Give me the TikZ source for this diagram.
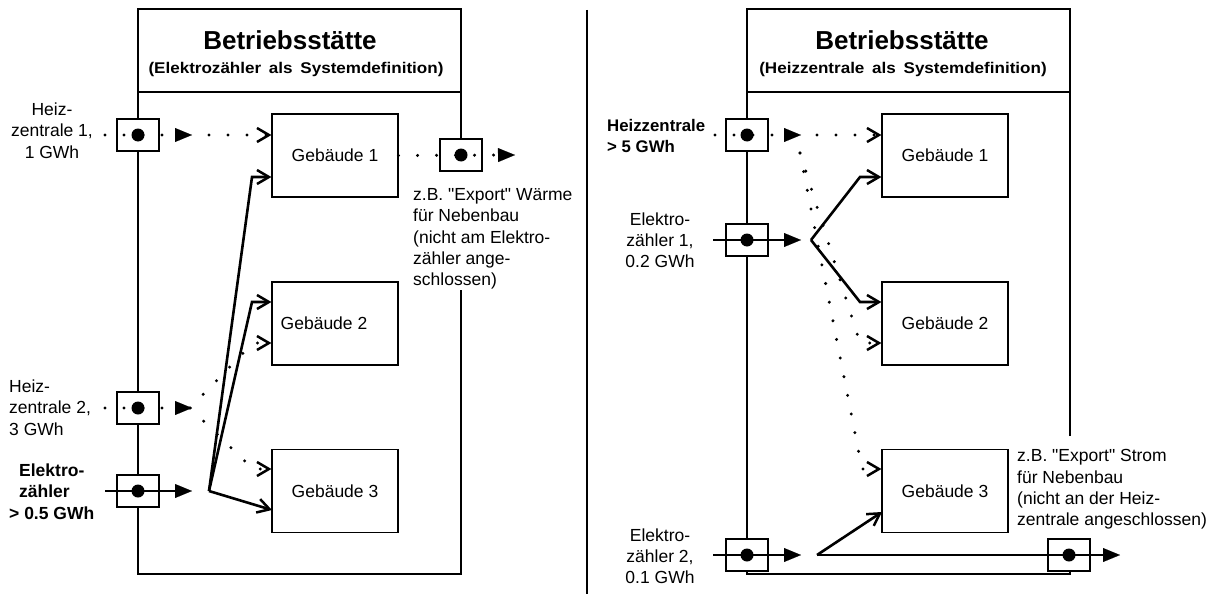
\documentclass[tikz,border=0pt]{standalone}
\usepackage{fontspec}
\setmainfont{Liberation Sans}[Ligatures=TeXOff]
\newfontfamily\subfont[FakeStretch=1.1]{Liberation Sans}
\usetikzlibrary{arrows.meta,calc}
\tikzset{
  bframe/.style={line width=2.6pt},
  divline/.style={line width=1.2pt},
  meter/.style={draw, line width=1.1pt, fill=white, minimum width=42pt, minimum height=32pt, inner sep=0pt},
  bldg/.style={draw, line width=1.1pt, minimum width=126pt, minimum height=83pt, inner sep=0pt, font=\fontsize{17.5}{21}\selectfont},
  lbl/.style={inner sep=0pt, font=\fontsize{17.5}{21.3}\selectfont},
  blbl/.style={inner sep=0pt, font=\fontsize{17.5}{21.3}\selectfont\bfseries},
  ttl/.style={anchor=base, inner sep=0pt, font=\fontsize{26}{30}\selectfont\bfseries},
  subttl/.style={anchor=base, inner sep=0pt, font=\subfont\bfseries\fontsize{15.5}{18}\selectfont},
  dotl/.style={line width=3.3pt, dash pattern=on 0pt off 19pt, line cap=round},
  flow/.style={line width=2.6pt},
  tri/.style={-{Triangle[length=17pt,width=14pt,line width=0.1pt]}},
  barb/.style={-{Straight Barb[length=12pt,width=14pt,line width=2.5pt]}},
}
\begin{document}
\begin{tikzpicture}[x=1pt,y=-1pt]
\useasboundingbox (0,0) rectangle (1223,594);

% ---------------- LEFT PANEL ----------------
\draw[bframe] (461,139) -- (461,9) -- (138,9) -- (138,574) -- (461,574) -- (461,290);
\draw[divline] (138,92) -- (461,92);
\node[ttl] (tL) at (290,50) {Betriebsstätte};
\node[subttl] (sL) at (296,74) {(Elektrozähler\hspace{3pt} als\hspace{3pt} Systemdefinition)};

\node[bldg] (g1) at (335,155.5) {Gebäude 1};
\node[bldg] (g2) at (335,323.5) {Gebäude 2\hspace*{22pt}};
\node[bldg] (g3) at (335,491) {Gebäude 3};

\node[meter] (m1) at (138,135) {};
\node[meter] (m2) at (138,408) {};
\node[meter] (m3) at (138,491) {};
\node[meter] (mx) at (461,155) {};

\coordinate (h1s) at (105,135);
\coordinate (h1t) at (192,135);
\coordinate (h1r) at (209,135);
\draw[dotl,tri] (h1s) -- (h1t);
\draw[dotl,barb] (h1r) -- (g1.west |- h1s);

\coordinate (xt) at (515,155);
\draw[dotl,tri] (g1.east) -- (xt);

\coordinate (h2s) at (105,408);
\coordinate (h2t) at (192,408);
\coordinate (h2b) at (190,408);
\coordinate (k2a) at (253,343);
\coordinate (k2b) at (253,469);
\draw[dotl,tri] (h2s) -- (h2t);
\draw[dotl,barb] (h2b) -- (k2a) -- (g2.west |- k2a);
\draw[dotl,barb] (h2b) -- (k2b) -- (g3.west |- k2b);

\coordinate (es) at (105,491);
\coordinate (et) at (192,491);
\coordinate (ej) at (209,491);
\coordinate (k1) at (252,177);
\coordinate (k3) at (252,302);
\coordinate (e3) at (272,510);
\draw[flow,tri] (es) -- (et);
\draw[flow,barb] (ej) -- (k1) -- (g1.west |- k1);
\draw[flow,barb] (ej) -- (k3) -- (g2.west |- k3);
\draw[flow,barb] (ej) -- (e3);

\foreach \m in {m1,m2,m3,mx} \fill (\m.center) circle (6.5pt);

\node[lbl, align=center, anchor=north] (l1) at (52,102.8) {Heiz-\\zentrale 1,\\1 GWh};
\node[lbl, align=left, anchor=north west] (l2) at (9,379.8) {Heiz-\\zentrale 2,\\3 GWh};
\node[blbl, align=left, anchor=north west] (l3) at (9,463.8) {\hspace*{10pt}Elektro-\\\hspace*{10pt}zähler\\> 0.5 GWh};
\node[lbl, align=left, anchor=north west] (l4) at (413,188.3) {z.B. "Export" Wärme\\für Nebenbau\\(nicht am Elektro-\\zähler ange-\\schlossen)};

% ---------------- DIVIDER ----------------
\draw[bframe] (587,10) -- (587,594);

% ---------------- RIGHT PANEL ----------------
\draw[bframe] (1070,436) -- (1070,9) -- (747,9) -- (747,574) -- (1070,574) -- (1070,555);
\draw[divline] (747,92) -- (1070,92);
\node[ttl] (tR) at (902,50) {Betriebsstätte};
\node[subttl] (sR) at (903,74) {(Heizzentrale\hspace{3pt} als\hspace{3pt} Systemdefinition)};

\node[bldg] (g4) at (945,155.5) {Gebäude 1};
\node[bldg] (g5) at (945,323.5) {Gebäude 2};
\node[bldg] (g6) at (945,491) {Gebäude 3};

\node[meter] (n1) at (747,135) {};
\node[meter] (n2) at (747,240) {};
\node[meter] (n3) at (747,555) {};
\node[meter] (nx) at (1069,555) {};

\coordinate (hRs) at (715,135);
\coordinate (hRt) at (801,135);
\coordinate (hRr) at (817,135);
\draw[dotl,tri] (hRs) -- (hRt);
\draw[dotl,barb] (hRr) -- (g4.west |- hRs);

\coordinate (dS) at (800,153);
\coordinate (dA) at (860,343);
\coordinate (dB) at (862,469);
\draw[dotl,barb] (dS) -- (dA) -- (g5.west |- dA);
\draw[dotl,barb] (dS) -- (dB) -- (g6.west |- dB);

\coordinate (eRs) at (713,240);
\coordinate (eRt) at (801,240);
\coordinate (eRj) at (811,240);
\coordinate (kR1) at (860,177);
\coordinate (kR2) at (860,302);
\draw[flow,tri] (eRs) -- (eRt);
\draw[flow,barb] (eRj) -- (kR1) -- (g4.west |- kR1);
\draw[flow,barb] (eRj) -- (kR2) -- (g5.west |- kR2);

\coordinate (fRs) at (713,555);
\coordinate (fRt) at (801,555);
\coordinate (fRj) at (817,555);
\coordinate (fR3) at (882,512);
\coordinate (fRx) at (1120,555);
\draw[flow,tri] (fRs) -- (fRt);
\draw[flow,barb] (fRj) -- (fR3);
\draw[flow,tri] (fRj) -- (fRx);

\foreach \m in {n1,n2,n3,nx} \fill (\m.center) circle (6.5pt);

\node[blbl, align=left, anchor=north west, font=\fontsize{16.8}{21}\selectfont\bfseries] (r1) at (607,119.3) {Heizzentrale\\> 5 GWh};
\node[lbl, align=center, anchor=north] (r2) at (660,212.3) {Elektro-\\zähler 1,\\0.2 GWh};
\node[lbl, align=center, anchor=north] (r3) at (660,528.3) {Elektro-\\zähler 2,\\0.1 GWh};
\node[lbl, align=left, anchor=north west] (r4) at (1017,449.3) {z.B. "Export" Strom\\für Nebenbau\\(nicht an der Heiz-\\zentrale angeschlossen)};
\end{tikzpicture}
\end{document}
